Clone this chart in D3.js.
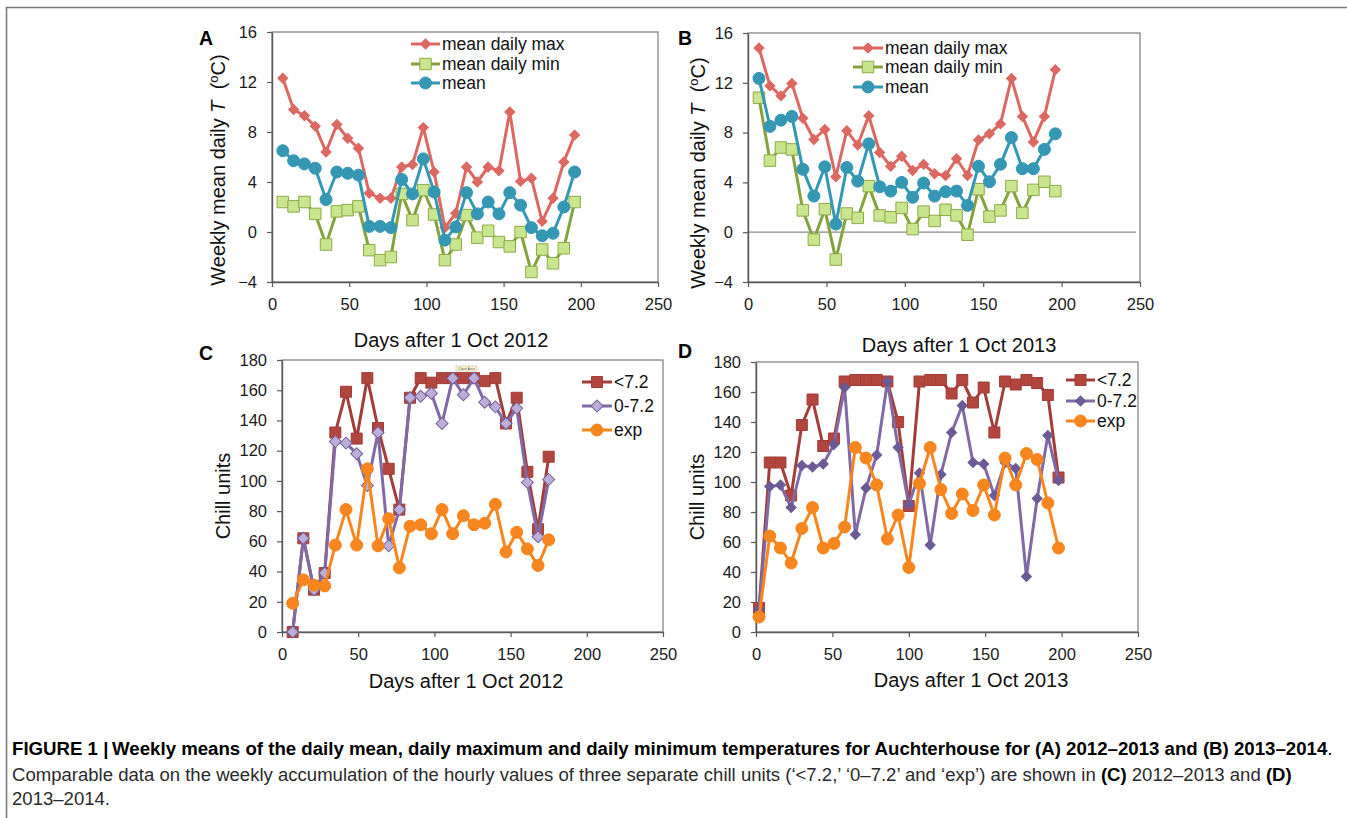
<!DOCTYPE html>
<html>
<head>
<meta charset="utf-8">
<script src="https://cdn.jsdelivr.net/npm/d3@7"></script>
<style>
  html, body { margin: 0; padding: 0; background: #fff; }
  svg { display: block; font-family: 'Liberation Sans', Arial, Helvetica, sans-serif; }
</style>
</head>
<body>
<div id="graf"></div>
<script>
// I. Datos
xTicks = [0, 50, 100, 150, 200, 250]
tTicks = [-4, 0, 4, 8, 12, 16]
cTicks = [0, 20, 40, 60, 80, 100, 120, 140, 160, 180]

// A: 2012-2013, semanas
daysA  = [7, 14, 21, 28, 35, 42, 49, 56, 63, 70, 77, 84, 91, 98, 105, 112, 119, 126, 133, 140, 147, 154, 161, 168, 175, 182, 189, 196]
maxA   = [12.3, 9.8, 9.3, 8.45, 6.4, 8.6, 7.5, 6.7, 3.1, 2.7, 2.7, 5.2, 5.4, 8.35, 4.8, 0.35, 1.5, 5.2, 4.0, 5.2, 4.9, 9.6, 4.05, 4.3, 0.85, 2.7, 5.6, 7.75]
minA   = [2.4, 2.05, 2.4, 1.45, -1.0, 1.65, 1.75, 2.05, -1.45, -2.25, -2.0, 3.05, 0.95, 3.35, 1.4, -2.25, -1.0, 1.35, -0.45, 0.1, -0.8, -1.15, 0.0, -3.2, -1.4, -2.5, -1.3, 2.4]
meanA  = [6.5, 5.7, 5.45, 5.1, 2.6, 4.8, 4.7, 4.55, 0.45, 0.45, 0.35, 4.2, 3.05, 5.85, 3.2, -0.65, 0.4, 3.15, 1.45, 2.4, 1.45, 3.15, 2.15, 0.35, -0.3, -0.1, 2.0, 4.8]

// B: 2013-2014
daysB  = [7, 14, 21, 28, 35, 42, 49, 56, 63, 70, 77, 84, 91, 98, 105, 112, 119, 126, 133, 140, 147, 154, 161, 168, 175, 182, 189, 196]
maxB   = [14.8, 11.75, 10.95, 11.95, 9.15, 7.45, 8.25, 4.45, 8.15, 7.0, 9.35, 6.4, 5.3, 6.1, 4.95, 5.45, 4.7, 4.55, 5.9, 4.55, 7.4, 7.9, 8.7, 12.35, 9.3, 7.25, 9.3, 13.05]
minB   = [10.8, 5.75, 6.8, 6.65, 1.75, -0.6, 1.85, -2.2, 1.5, 1.15, 3.7, 1.35, 1.2, 1.95, 0.25, 1.65, 0.9, 1.8, 1.35, -0.2, 3.45, 1.25, 1.75, 3.7, 1.55, 3.4, 4.05, 3.3]
meanB  = [12.35, 8.5, 9.0, 9.3, 5.05, 2.9, 5.25, 0.65, 5.2, 4.1, 7.1, 3.65, 3.3, 4.0, 2.8, 3.95, 2.9, 3.25, 3.3, 2.15, 5.3, 4.05, 5.45, 7.6, 5.1, 5.1, 6.65, 7.9]

// C: unidades de frío 2012-2013
daysC  = [7, 14, 21, 28, 35, 42, 49, 56, 63, 70, 77, 84, 91, 98, 105, 112, 119, 126, 133, 140, 147, 154, 161, 168, 175]
lt72C  = [0, 62, 28, 39, 132, 159, 128, 168, 135, 108, 81, 155, 168, 165, 168, 168, 168, 168, 166, 168, 138, 155, 106, 68, 116]
c072C  = [0, 62, 28, 39, 126, 125, 118, 97, 132, 57, 81, 155, 156, 158, 138, 168, 157, 168, 152, 149, 138, 148, 99, 63, 101]
expC   = [19, 34.5, 31, 30.5, 57.5, 81, 57.5, 108, 57, 75, 42.5, 70, 71, 65, 81, 65, 77, 71, 72, 84.5, 53, 66, 55, 44, 61]

// D: unidades de frío 2013-2014
daysD  = [2, 9, 16, 23, 30, 37, 44, 51, 58, 65, 72, 79, 86, 93, 100, 107, 114, 121, 128, 135, 142, 149, 156, 163, 170, 177, 184, 191, 198]
lt72D  = [16, 113, 113, 91, 138, 155, 124, 129, 167, 168, 168, 168, 167, 140, 84, 167, 168, 168, 159, 168, 153, 163, 133, 167, 165, 168, 166, 158, 103]
c072D  = [15, 97, 98, 83, 111, 110, 112, 125, 163, 65, 96, 118, 167, 123, 85, 106, 58, 105, 133, 151, 113, 112, 91, 113, 109, 37, 89, 131, 101]
expD   = [10, 64, 56, 46, 69, 83, 56, 59, 70, 123, 116, 98, 62, 78, 43, 99, 123, 95, 79, 92, 81, 98, 78, 116, 98, 119, 115, 86, 56]

// II. Configuración
ancho_total = 1347
alto_total = 818
FONT = "'Liberation Sans', Arial, Helvetica, sans-serif"

colMax = '#dc6861'
colMinLine = '#84a23d', colMinFill = '#c9e58e'
colMean = '#3497b3'
colLt = '#a23e39', colLtFill = '#b3453f'
colPur = '#8069a5', colPurFill = '#bcaed8', colPurDark = '#6b5a95'
colExp = '#f7861f'

svg = d3.select('#graf').append('svg')
        .attr('width', ancho_total)
        .attr('height', alto_total)
        .attr('font-family', FONT)

svg.append('rect').attr('width', ancho_total).attr('height', alto_total).attr('fill', '#fff')

// marco de la figura
svg.append('path')
   .attr('d', `M${ancho_total},7.5 H6.5 V${alto_total}`)
   .attr('fill', 'none')
   .attr('stroke', '#7a7a7a')
   .attr('stroke-width', 1.6)

function marker(kind, s) {
  if (kind === 'diamond') return d3.symbol(d3.symbolSquare, s * s / 2)()
  if (kind === 'square') return d3.symbol(d3.symbolSquare, s * s)()
  return d3.symbol(d3.symbolCircle, Math.PI * s * s / 4)()
}

function drawPanel(p) {
  const x = d3.scaleLinear().domain([0, 250]).range([p.x0, p.x1])
  const y = d3.scaleLinear().domain(p.yDomain).range([p.yBot, p.yTop])
  const g = svg.append('g')

  // marco del área de trazado
  g.append('rect')
   .attr('x', p.x0).attr('y', p.yTop)
   .attr('width', p.x1 - p.x0).attr('height', p.yBot - p.yTop)
   .attr('fill', 'none').attr('stroke', '#7c7c7c').attr('stroke-width', 1.2)

  if (p.zero) {
    g.append('line')
     .attr('x1', p.x0).attr('x2', p.x1 - 4)
     .attr('y1', y(0)).attr('y2', y(0))
     .attr('stroke', '#8a8a8a').attr('stroke-width', 1.2)
  }

  const xg = g.append('g').attr('transform', `translate(0,${p.yBot})`)
              .call(d3.axisBottom(x).tickValues(xTicks).tickSize(5).tickSizeOuter(0).tickPadding(11))
  const yg = g.append('g').attr('transform', `translate(${p.x0},0)`)
              .call(d3.axisLeft(y).tickValues(p.yTicks).tickSize(5).tickSizeOuter(0).tickPadding(10))
  ;[xg, yg].forEach(a => {
    a.attr('font-family', null).attr('font-size', null)
    a.select('.domain').attr('stroke', '#5a5a5a').attr('stroke-width', 1.4)
    a.selectAll('.tick line').attr('stroke', '#5a5a5a').attr('stroke-width', 1.2)
    a.selectAll('.tick text').attr('font-size', '16.5px').attr('fill', '#1a1a1a')
  })

  // series
  const line = d3.line().x(d => x(d[0])).y(d => y(d[1]))
  p.series.forEach(s => {
    const data = d3.zip(p.days, s.values)
    g.append('path').datum(data)
     .attr('d', line)
     .attr('fill', 'none').attr('stroke', s.line).attr('stroke-width', 3)
     .attr('stroke-linejoin', 'round')
    g.selectAll(null).data(data).enter().append('path')
     .attr('d', marker(s.kind, s.size))
     .attr('transform', d => `translate(${x(d[0])},${y(d[1])})` + (s.kind === 'diamond' ? ' rotate(45)' : ''))
     .attr('fill', s.fill).attr('stroke', s.stroke).attr('stroke-width', 1)
  })

  // leyenda
  p.series.forEach((s, i) => {
    const ly = p.legend.ys[i]
    g.append('line')
     .attr('x1', p.legend.x0).attr('x2', p.legend.x1)
     .attr('y1', ly).attr('y2', ly)
     .attr('stroke', s.line).attr('stroke-width', 3)
    g.append('path')
     .attr('d', marker(s.kind, s.size))
     .attr('transform', `translate(${(p.legend.x0 + p.legend.x1) / 2},${ly})` + (s.kind === 'diamond' ? ' rotate(45)' : ''))
     .attr('fill', s.fill).attr('stroke', s.stroke).attr('stroke-width', 1)
    g.append('text')
     .attr('x', p.legend.x1 + 2).attr('y', ly).attr('dy', '0.36em')
     .attr('font-size', '17.5px').attr('fill', '#111')
     .text(s.name)
  })

  // letra del panel
  g.append('text').attr('x', p.label.x).attr('y', p.label.y)
   .attr('font-size', '19.5px').attr('font-weight', 'bold').attr('fill', '#000')
   .text(p.label.text)

  // título eje x
  g.append('text').attr('x', p.xTitle.x).attr('y', p.xTitle.y)
   .attr('text-anchor', 'middle').attr('font-size', '20px').attr('fill', '#111')
   .text(p.xTitle.text)

  // título eje y
  const yt = g.append('text')
    .attr('transform', `translate(${p.yTitle.x},${p.yTitle.y}) rotate(-90)`)
    .attr('text-anchor', 'middle').attr('font-size', '20px').attr('fill', '#111')
  if (p.yTitle.temp) {
    yt.append('tspan').text('Weekly mean daily ')
    yt.append('tspan').attr('font-style', 'italic').text('T')
    yt.append('tspan').text('\u00a0 (')
    yt.append('tspan').attr('font-size', '13px').attr('dy', '-7').text('o')
    yt.append('tspan').attr('dy', '7').text('C)')
  } else {
    yt.text('Chill units')
  }
  return { x, y, g }
}

tempSeries = (mx, mn, me) => [
  { name: 'mean daily max', values: mx, line: colMax, kind: 'diamond', size: 10, fill: colMax, stroke: colMax },
  { name: 'mean daily min', values: mn, line: colMinLine, kind: 'square', size: 11.5, fill: colMinFill, stroke: '#8cab46' },
  { name: 'mean', values: me, line: colMean, kind: 'circle', size: 12, fill: colMean, stroke: colMean }
]

drawPanel({
  x0: 272, x1: 658, yTop: 32, yBot: 282, yDomain: [-4, 16], yTicks: tTicks,
  days: daysA, series: tempSeries(maxA, minA, meanA),
  legend: { x0: 411, x1: 440, ys: [44, 64, 83] },
  label: { text: 'A', x: 199, y: 45 },
  xTitle: { text: 'Days after 1 Oct 2012', x: 451, y: 347 },
  yTitle: { x: 225, y: 170, temp: true }
})

drawPanel({
  x0: 748, x1: 1140, yTop: 33, yBot: 282, yDomain: [-4, 16], yTicks: tTicks, zero: true,
  days: daysB, series: tempSeries(maxB, minB, meanB),
  legend: { x0: 853, x1: 883, ys: [48, 67, 87] },
  label: { text: 'B', x: 678, y: 45 },
  xTitle: { text: 'Days after 1 Oct 2013', x: 959, y: 352 },
  yTitle: { x: 705, y: 173, temp: true }
})

pc = drawPanel({
  x0: 282, x1: 663, yTop: 360, yBot: 632, yDomain: [0, 180], yTicks: cTicks,
  days: daysC,
  series: [
    { name: '<7.2', values: lt72C, line: colLt, kind: 'square', size: 11, fill: colLtFill, stroke: colLt },
    { name: '0-7.2', values: c072C, line: colPur, kind: 'diamond', size: 12, fill: colPurFill, stroke: '#7460a0' },
    { name: 'exp', values: expC, line: colExp, kind: 'circle', size: 12, fill: colExp, stroke: colExp }
  ],
  legend: { x0: 582, x1: 612, ys: [382, 406, 430] },
  label: { text: 'C', x: 199, y: 360 },
  xTitle: { text: 'Days after 1 Oct 2012', x: 466, y: 688 },
  yTitle: { x: 230, y: 496 }
})

// pequeña etiqueta "Chart Area" que quedó en la figura original
pc.g.append('rect').attr('x', 456).attr('y', 366).attr('width', 21).attr('height', 5)
     .attr('fill', '#fbf7d2').attr('stroke', '#b8b38a').attr('stroke-width', 0.5)
pc.g.append('text').attr('x', 466.5).attr('y', 369.8).attr('text-anchor', 'middle')
     .attr('font-size', '3.5px').attr('fill', '#555').text('Chart Area')

drawPanel({
  x0: 756, x1: 1138, yTop: 362, yBot: 632, yDomain: [0, 180], yTicks: cTicks,
  days: daysD,
  series: [
    { name: '<7.2', values: lt72D, line: colLt, kind: 'square', size: 11, fill: colLtFill, stroke: colLt },
    { name: '0-7.2', values: c072D, line: colPur, kind: 'diamond', size: 10, fill: colPurDark, stroke: colPurDark },
    { name: 'exp', values: expD, line: colExp, kind: 'circle', size: 12, fill: colExp, stroke: colExp }
  ],
  legend: { x0: 1066, x1: 1095, ys: [380, 401, 421] },
  label: { text: 'D', x: 678, y: 358 },
  xTitle: { text: 'Days after 1 Oct 2013', x: 971, y: 687 },
  yTitle: { x: 704, y: 497 }
})

// III. Pie de figura
function fitLine(t, w) {
  const bw = t.node().getBBox().width
  const fs = parseFloat(t.attr('font-size'))
  t.attr('font-size', (fs * w / bw).toFixed(2) + 'px')
  return fs * w / bw
}

cap1 = svg.append('text').attr('x', 12).attr('y', 755).attr('font-size', '14.5px').attr('fill', '#000')
cap1.append('tspan').attr('font-weight', 'bold')
    .text('FIGURE 1 |\u2009Weekly means of the daily mean, daily maximum and daily minimum temperatures for Auchterhouse for (A) 2012\u20132013 and (B) 2013\u20132014')
cap1.append('tspan').text('.')
fitLine(cap1, 1321)

cap2 = svg.append('text').attr('x', 12).attr('y', 781).attr('font-size', '14.5px').attr('fill', '#2a2a2a')
cap2.append('tspan').text('Comparable data on the weekly accumulation of the hourly values of three separate chill units (\u2018<7.2,\u2019 \u20180\u20137.2\u2019 and \u2018exp\u2019) are shown in ')
cap2.append('tspan').attr('font-weight', 'bold').attr('fill', '#000').text('(C)')
cap2.append('tspan').text(' 2012\u20132013 and ')
cap2.append('tspan').attr('font-weight', 'bold').attr('fill', '#000').text('(D)')
fs2 = fitLine(cap2, 1281)

svg.append('text').attr('x', 12).attr('y', 805).attr('font-size', fs2.toFixed(2) + 'px').attr('fill', '#2a2a2a')
   .text('2013\u20132014.')
</script>
</body>
</html>
